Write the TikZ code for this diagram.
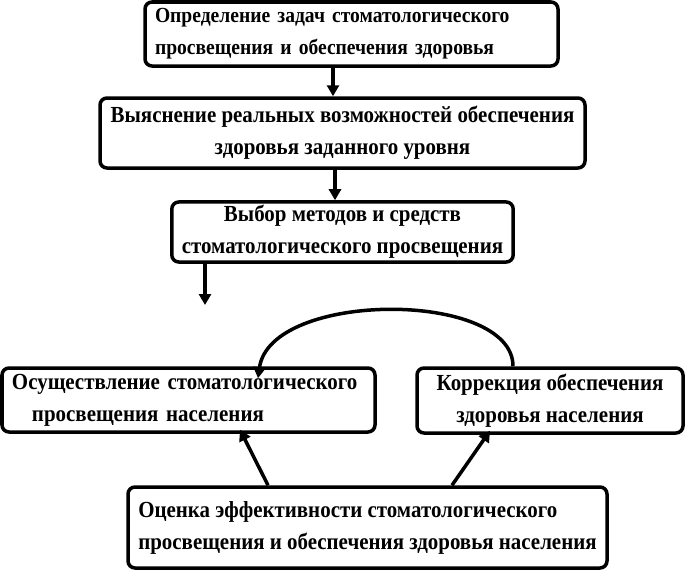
\documentclass[tikz,border=0pt]{standalone}
\usepackage{fontspec}
\setmainfont{Liberation Serif}[FakeStretch=0.91]
\usetikzlibrary{arrows.meta}

\begin{document}
\begin{tikzpicture}[x=1pt,y=-1pt,
    stage/.style={draw,line width=3.5pt,rounded corners=7pt,inner xsep=10pt,
      font=\fontsize{23}{32}\selectfont\bfseries},
    flow/.style={line width=3.5pt,-{Triangle[length=11pt,width=12pt]}}]

    \useasboundingbox (0,0) rectangle (686,570);

    \node[stage,minimum width=413pt,minimum height=64pt,text width=393pt,align=left,
      font=\fontsize{21.5}{32}\selectfont\bfseries]
      (goals) at (351.5,34) {Определение задач стоматологического\\просвещения и обеспечения здоровья};
    \node[stage,minimum width=485pt,minimum height=70pt,align=center]
      (means) at (342.5,133) {Выяснение реальных возможностей обеспечения\\здоровья заданного уровня};
    \node[stage,minimum width=341pt,minimum height=60pt,align=center]
      (methods) at (342.5,232) {Выбор методов и средств\\стоматологического просвещения};
    \node[stage,minimum width=373pt,minimum height=64pt,text width=353pt,align=left]
      (educate) at (188.5,400) {Осуществление стоматологического\\\hspace*{20pt}просвещения населения};
    \node[stage,minimum width=266pt,minimum height=65pt,align=center]
      (correct) at (550,400.5) {Коррекция обеспечения\\здоровья населения};
    \node[stage,minimum width=479pt,minimum height=81pt,inner xsep=6pt,align=left]
      (assess) at (367.5,527.5) {Оценка эффективности стоматологического\\просвещения и обеспечения здоровья населения};

    \coordinate (free) at (205,305);

    \draw[flow] (goals.south -| 333,0) -- (means.north -| 333,0);
    \draw[flow] (means.south -| 335,0) -- (methods.north -| 335,0);
    \draw[flow] (methods.south -| free) -- (free);
    \draw[flow] (correct.north -| 513,0) .. controls (513,290) and (270,290) .. ([yshift=-12pt]educate.north -| 258,0);
    \draw[flow] (assess.north -| 268,0) -- ([yshift=4pt]educate.south -| 240,0);
    \draw[flow] (assess.north -| 452,0) -- ([yshift=4pt]correct.south -| 490,0);

\end{tikzpicture}
\end{document}
